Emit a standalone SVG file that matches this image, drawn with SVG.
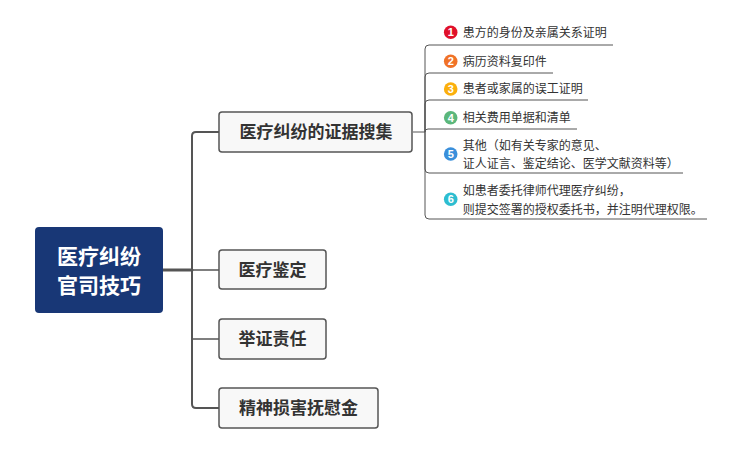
<svg xmlns="http://www.w3.org/2000/svg" width="741" height="449" viewBox="0 0 741 449">
<style>
.main rect{fill:#f8f8f8;stroke:#555;stroke-width:1.5}
.main text{font-family:"Noto Sans CJK SC","Noto Sans",sans-serif;font-size:17px;font-weight:bold;fill:#333;text-anchor:middle}
.item text{font-family:"Noto Sans CJK SC","Noto Sans",sans-serif;font-size:12px;fill:#333}
.item .num{font-family:"Liberation Sans","Noto Sans",sans-serif;font-size:11px;font-weight:bold;fill:#fff;text-anchor:middle}
.conn path{fill:none;stroke:#555;stroke-linecap:round}
.sub path{fill:none;stroke:#555;stroke-width:1}
.rt{font-family:"Noto Sans CJK SC","Noto Sans",sans-serif;font-size:21px;font-weight:bold;fill:#fff;text-anchor:middle}
</style>
<rect width="741" height="449" fill="#fff"/>
<g id="connectors">
<g class="conn">
<path d="M163 270 H192" stroke-width="3"/>
<path d="M219 132 H196 Q192 132 192 136 V404 Q192 408 196 408 H219" stroke-width="2"/>
<path d="M192 270 H219" stroke-width="1.5"/>
<path d="M192 339 H219" stroke-width="1.5"/>
</g>
<g class="sub">
<path d="M413 132 H425"/>
<path d="M425 132 V49 Q425 45 429 45 H613"/>
<path d="M425 132 V77 Q425 73 429 73 H553"/>
<path d="M425 132 V104 Q425 100 429 100 H588"/>
<path d="M425 132 Q425 129 428 129 H577"/>
<path d="M425 132 V169 Q425 173 429 173 H683"/>
<path d="M425 132 V215 Q425 219 429 219 H707"/>
</g>
</g>
<g id="root">
<rect x="35" y="227" width="128" height="86" rx="4" fill="#183776"/>
<text class="rt" x="99" y="263.5">医疗纠纷</text>
<text class="rt" x="99" y="293">官司技巧</text>
</g>
<g id="n1" class="main"><rect x="219" y="112" width="193" height="40" rx="3"/><text x="316" y="138">医疗纠纷的证据搜集</text></g>
<g id="n2" class="main"><rect x="219" y="250" width="107" height="39" rx="3"/><text x="272.5" y="276">医疗鉴定</text></g>
<g id="n3" class="main"><rect x="219" y="319" width="107" height="40" rx="3"/><text x="272.5" y="345">举证责任</text></g>
<g id="n4" class="main"><rect x="219" y="388" width="159" height="40" rx="3"/><text x="298.5" y="414">精神损害抚慰金</text></g>
<g id="i1" class="item"><circle cx="450.7" cy="32.3" r="6.8" fill="#e0102a"/><text class="num" x="450.7" y="36.2">1</text><text x="462.7" y="36.6">患方的身份及亲属关系证明</text></g>
<g id="i2" class="item"><circle cx="450.7" cy="61.3" r="6.8" fill="#f07227"/><text class="num" x="450.7" y="65.2">2</text><text x="462.7" y="66">病历资料复印件</text></g>
<g id="i3" class="item"><circle cx="450.7" cy="89" r="6.8" fill="#fbaf0c"/><text class="num" x="450.7" y="92.9">3</text><text x="462.7" y="93.3">患者或家属的误工证明</text></g>
<g id="i4" class="item"><circle cx="450.7" cy="117.7" r="6.8" fill="#5bb77b"/><text class="num" x="450.7" y="121.6">4</text><text x="462.7" y="122">相关费用单据和清单</text></g>
<g id="i5" class="item"><circle cx="450.7" cy="154" r="6.8" fill="#3a8fdb"/><text class="num" x="450.7" y="157.9">5</text><text x="462.7" y="150.3">其他（如有关专家的意见、</text><text x="462.7" y="168.3">证人证言、鉴定结论、医学文献资料等）</text></g>
<g id="i6" class="item"><circle cx="450.7" cy="199.3" r="6.8" fill="#2dbdd0"/><text class="num" x="450.7" y="203.2">6</text><text x="462.7" y="195">如患者委托律师代理医疗纠纷，</text><text x="462.7" y="213.6">则提交签署的授权委托书，并注明代理权限。</text></g>
</svg>
